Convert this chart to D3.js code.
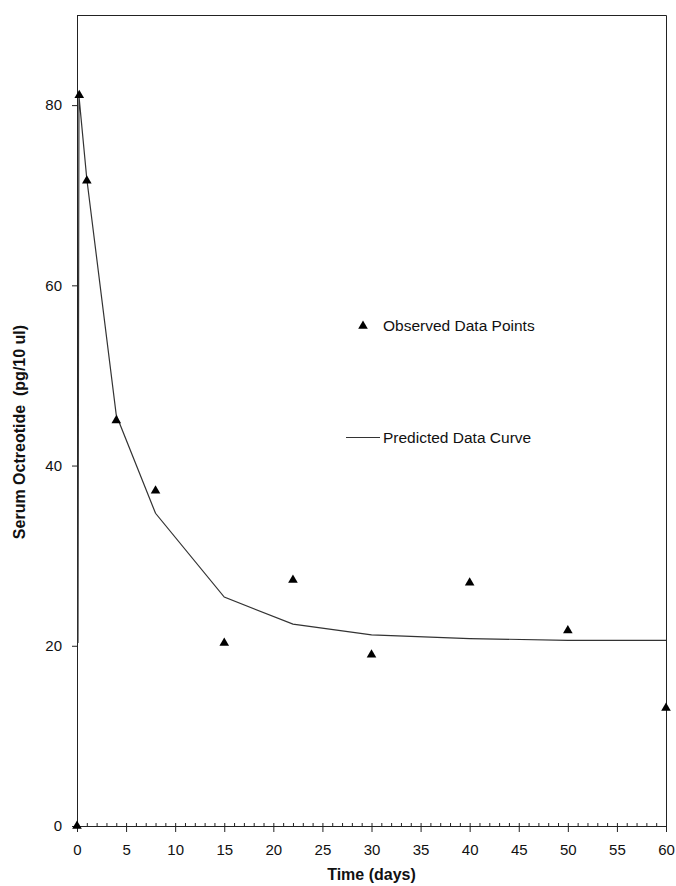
<!DOCTYPE html>
<html>
<head>
<meta charset="utf-8">
<script src="https://cdn.jsdelivr.net/npm/d3@7"></script>
<style>
  html, body { margin: 0; padding: 0; background: #fff; }
  svg { display: block; font-family: "Liberation Sans", Arial, sans-serif; }
</style>
</head>
<body>
<svg id="chart" width="676" height="886"></svg>
<script>
// ---- data ----
const observedTime  = [0, 0.23, 1, 4, 8, 15, 22, 30, 40, 50, 60];
const observedValue = [0, 81.1, 71.6, 45.0, 37.2, 20.3, 27.3, 19.0, 27.0, 21.7, 13.1];
const predictedTime  = [0.1, 0.2, 1, 4, 8, 15, 22, 30, 40, 50, 60];
const predictedValue = [20.3, 81.0, 71.8, 45.6, 34.7, 25.4, 22.4, 21.2, 20.8, 20.6, 20.6];
const xTicks = [0, 5, 10, 15, 20, 25, 30, 35, 40, 45, 50, 55, 60];
const yTicks = [0, 20, 40, 60, 80];
const xTitle = "Time (days)";
const yTitle = "Serum Octreotide  (pg/10 ul)";
const legendLabels = ["Observed Data Points", "Predicted Data Curve"];

// ---- layout ----
const W = 676, H = 886;
const m = { top: 15, right: 10, bottom: 60, left: 77 };
const svg = d3.select("#chart");
const g = svg.append("g").attr("transform", `translate(${m.left},${m.top})`);
const iw = W - m.left - m.right, ih = H - m.top - m.bottom;

const x = d3.scaleLinear().domain([0, 60]).range([0, iw]);
const y = d3.scaleLinear().domain([0, 90]).range([ih, 0]);
const ink = "#222";

// frame (top & right)
g.append("path")
  .attr("d", `M0,0.5H${iw + 0.5}V${ih + 6}`)
  .attr("fill", "none").attr("stroke", ink).attr("stroke-width", 1);

// minor x ticks (every day, pointing up)
const minorAxis = d3.axisBottom(x).tickValues(d3.range(0, 61, 1)).tickSize(-3).tickFormat("");
g.append("g").attr("transform", `translate(0,${ih})`).call(minorAxis)
  .call(s => s.select(".domain").remove())
  .call(s => s.selectAll("line").attr("stroke", ink));

// major x axis
const xAxis = d3.axisBottom(x).tickValues(xTicks).tickSize(6).tickPadding(12).tickSizeOuter(0).tickFormat(d3.format("d"));
g.append("g").attr("transform", `translate(0,${ih})`).call(xAxis)
  .call(s => s.select(".domain").attr("stroke", ink))
  .call(s => s.selectAll("line").attr("stroke", ink))
  .call(s => s.selectAll("text").attr("fill", "#111").style("font-size", "15px"));

// y axis
const yAxis = d3.axisLeft(y).tickValues(yTicks).tickSize(5).tickPadding(10).tickSizeOuter(0).tickFormat(d3.format("d"));
g.append("g").call(yAxis)
  .call(s => s.select(".domain").attr("stroke", ink))
  .call(s => s.selectAll("line").attr("stroke", ink))
  .call(s => s.selectAll("text").attr("fill", "#111").style("font-size", "15px"));

// predicted curve
const predicted = predictedTime.map((t, i) => [t, predictedValue[i]]);
g.append("path")
  .datum(predicted)
  .attr("fill", "none").attr("stroke", "#333").attr("stroke-width", 1.2)
  .attr("d", d3.line().x(d => x(d[0])).y(d => y(d[1])));

// observed points
const tri = d3.symbol().type(d3.symbolTriangle).size(40);
const observed = observedTime.map((t, i) => [t, observedValue[i]]);
g.selectAll(".obs").data(observed).enter().append("path")
  .attr("class", "obs")
  .attr("transform", d => `translate(${x(d[0])},${y(d[1])})`)
  .attr("d", tri).attr("fill", "#000");

// legend
svg.append("path").attr("d", tri).attr("fill", "#000")
  .attr("transform", "translate(363,326)");
svg.append("text").attr("x", 383).attr("y", 326).attr("dy", "0.35em")
  .style("font-size", "15.5px").attr("fill", "#111").text(legendLabels[0]);
svg.append("line").attr("x1", 346).attr("x2", 380).attr("y1", 437.5).attr("y2", 437.5)
  .attr("stroke", "#333").attr("stroke-width", 1.2);
svg.append("text").attr("x", 383).attr("y", 437.5).attr("dy", "0.35em")
  .style("font-size", "15.5px").attr("fill", "#111").text(legendLabels[1]);

// axis titles
svg.append("text").attr("x", m.left + iw / 2).attr("y", 880)
  .attr("text-anchor", "middle").style("font-size", "16px").style("font-weight", "bold")
  .attr("fill", "#111").text(xTitle);
svg.append("text")
  .attr("transform", "translate(25,432) rotate(-90)")
  .attr("text-anchor", "middle").style("font-size", "16px").style("font-weight", "bold")
  .style("white-space", "pre")
  .attr("fill", "#111").text(yTitle);
</script>
</body>
</html>
